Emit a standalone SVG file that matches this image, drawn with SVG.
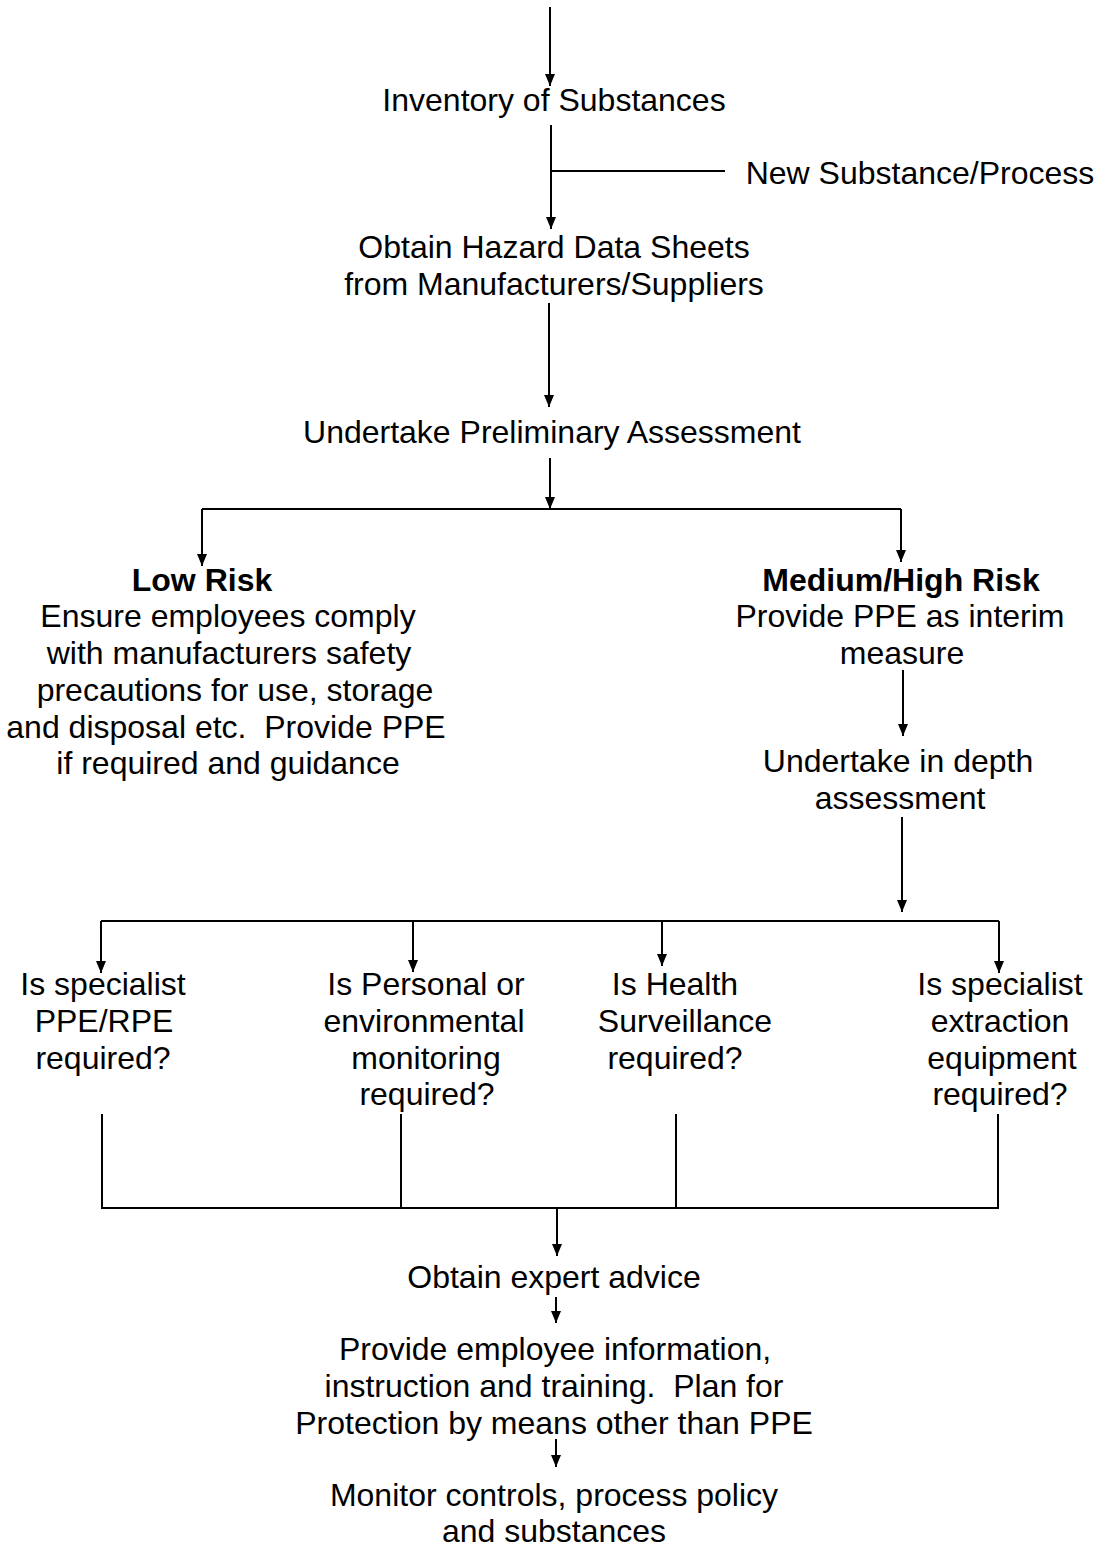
<svg xmlns="http://www.w3.org/2000/svg" width="1099" height="1549" viewBox="0 0 1099 1549">
<style>
text{font-family:"Liberation Sans",Arial,sans-serif;font-size:32px;fill:#000;text-anchor:middle;white-space:pre}
.b{font-weight:bold}
.c{fill:none;stroke:#000;stroke-width:2}
</style>
<defs>
<marker id="ah" markerUnits="userSpaceOnUse" markerWidth="12" markerHeight="12" refX="12" refY="5" orient="auto">
<path d="M0,0 L12,5 L0,10 z" fill="#000"/>
</marker>
</defs>
<rect width="1099" height="1549" fill="#fff"/>
<g id="connectors">
<path class="c" d="M550,7 V86" marker-end="url(#ah)"/>
<path class="c" d="M551,125 V229" marker-end="url(#ah)"/>
<path class="c" d="M551,171 H725"/>
<path class="c" d="M549,303 V407" marker-end="url(#ah)"/>
<path class="c" d="M550,458 V509" marker-end="url(#ah)"/>
<path class="c" d="M202,509 H901"/>
<path class="c" d="M202,509 V566" marker-end="url(#ah)"/>
<path class="c" d="M901,509 V562" marker-end="url(#ah)"/>
<path class="c" d="M903,670 V736" marker-end="url(#ah)"/>
<path class="c" d="M902,817 V912" marker-end="url(#ah)"/>
<path class="c" d="M101,921 H999"/>
<path class="c" d="M101,921 V973" marker-end="url(#ah)"/>
<path class="c" d="M413,921 V972" marker-end="url(#ah)"/>
<path class="c" d="M662,921 V966" marker-end="url(#ah)"/>
<path class="c" d="M999,921 V973" marker-end="url(#ah)"/>
<path class="c" d="M102,1114 V1208 M401,1114 V1208 M676,1114 V1208 M998,1114 V1208 M101,1208 H999"/>
<path class="c" d="M557,1209 V1256" marker-end="url(#ah)"/>
<path class="c" d="M556,1297 V1323" marker-end="url(#ah)"/>
<path class="c" d="M556,1439 V1467" marker-end="url(#ah)"/>
</g>
<g id="n-inventory"><text x="554" y="111">Inventory of Substances</text></g>
<g id="n-new"><text x="920" y="184">New Substance/Process</text></g>
<g id="n-obtain-sheets"><text x="554" y="258">Obtain Hazard Data Sheets</text><text x="554" y="295">from Manufacturers/Suppliers</text></g>
<g id="n-prelim"><text x="552" y="443">Undertake Preliminary Assessment</text></g>
<g id="n-low">
<text class="b" x="202" y="591">Low Risk</text>
<text x="228" y="627">Ensure employees comply</text>
<text x="229" y="664">with manufacturers safety</text>
<text x="235" y="701">precautions for use, storage</text>
<text x="226" y="738">and disposal etc.  Provide PPE</text>
<text x="228" y="774">if required and guidance</text>
</g>
<g id="n-medhigh">
<text class="b" x="901" y="591">Medium/High Risk</text>
<text x="900" y="627">Provide PPE as interim</text>
<text x="902" y="664">measure</text>
</g>
<g id="n-indepth"><text x="898" y="772">Undertake in depth</text><text x="900" y="809">assessment</text></g>
<g id="n-q1"><text x="103" y="995">Is specialist</text><text x="104" y="1032">PPE/RPE</text><text x="103" y="1069">required?</text></g>
<g id="n-q2"><text x="426" y="995">Is Personal or</text><text x="424" y="1032">environmental</text><text x="426" y="1069">monitoring</text><text x="427" y="1105">required?</text></g>
<g id="n-q3"><text x="675" y="995">Is Health</text><text x="685" y="1032">Surveillance</text><text x="675" y="1069">required?</text></g>
<g id="n-q4"><text x="1000" y="995">Is specialist</text><text x="1000" y="1032">extraction</text><text x="1002" y="1069">equipment</text><text x="1000" y="1105">required?</text></g>
<g id="n-expert"><text x="554" y="1288">Obtain expert advice</text></g>
<g id="n-provide"><text x="555" y="1360">Provide employee information,</text><text x="554" y="1397">instruction and training.  Plan for</text><text x="554" y="1434">Protection by means other than PPE</text></g>
<g id="n-monitor"><text x="554" y="1506">Monitor controls, process policy</text><text x="554" y="1542">and substances</text></g>
</svg>
